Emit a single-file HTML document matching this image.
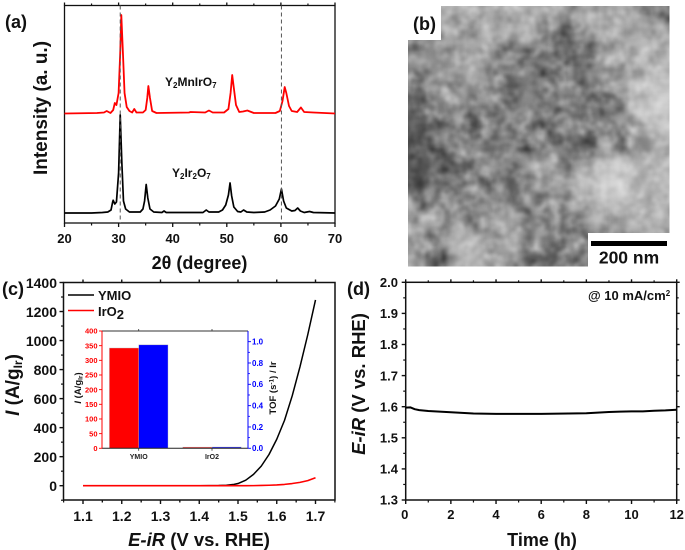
<!DOCTYPE html>
<html lang="en">
<head>
<meta charset="utf-8">
<title>Catalyst characterization figure</title>
<style>
html,body{margin:0;padding:0;background:#fff;width:685px;height:550px;overflow:hidden}
svg{display:block;filter:blur(0.35px)}
text{font-family:"Liberation Sans",sans-serif;font-weight:bold;fill:#111}
</style>
</head>
<body>
<svg id="fig" xmlns="http://www.w3.org/2000/svg" width="685" height="550" viewBox="0 0 685 550">
<defs>
<filter id="semBlur" x="-5%" y="-5%" width="110%" height="110%" color-interpolation-filters="sRGB"><feGaussianBlur stdDeviation="5"/></filter>
<filter id="semGrain" x="0" y="0" width="100%" height="100%" color-interpolation-filters="sRGB">
<feTurbulence type="fractalNoise" baseFrequency="0.075" numOctaves="2" seed="7"/>
<feColorMatrix type="matrix" values="0.4 0.4 0 0 0.1 0.4 0.4 0 0 0.1 0.4 0.4 0 0 0.1 0 0 0 0 1"/>
</filter>
<clipPath id="semClip"><rect x="408" y="6" width="261.5" height="260.5"/></clipPath>
</defs>
<rect width="685" height="550" fill="#fff"/>
<g id="panelA"></g>
<g id="panelB" clip-path="url(#semClip)"></g>
<g id="semOver">
<rect x="408" y="6" width="33" height="34" fill="#fff"/>
<rect x="588" y="233" width="82" height="34" fill="#fff"/>
<rect x="591" y="241" width="76" height="5" fill="#000"/>
<text x="629" y="263.500" font-size="17.500" text-anchor="middle">200 nm</text>
</g>
<g id="panelC"></g>
<g id="panelInset"></g>
<g id="panelD"></g>

<text x="5" y="28" font-size="18">(a)</text>
<text x="413" y="30" font-size="18">(b)</text>
<text x="2" y="295" font-size="18">(c)</text>
<text x="347" y="295" font-size="18">(d)</text>

<text x="199.500" y="269" font-size="18" text-anchor="middle">2θ (degree)</text>
<text transform="translate(47,108) rotate(-90)" font-size="19" text-anchor="middle">Intensity (a. u.)</text>
<text x="165" y="86" font-size="12">Y<tspan font-size="8" dy="2">2</tspan><tspan dy="-2">MnIrO</tspan><tspan font-size="8" dy="2">7</tspan></text>
<text x="172" y="177" font-size="12">Y<tspan font-size="8" dy="2">2</tspan><tspan dy="-2">Ir</tspan><tspan font-size="8" dy="2">2</tspan><tspan dy="-2">O</tspan><tspan font-size="8" dy="2">7</tspan></text>

<text x="199" y="546" font-size="18.500" text-anchor="middle"><tspan font-style="italic">E-iR</tspan> (V vs. RHE)</text>
<text transform="translate(19,385) rotate(-90)" font-size="19" text-anchor="middle"><tspan font-style="italic">I</tspan> (A/g<tspan font-size="12" dy="3">Ir</tspan><tspan dy="-3">)</tspan></text>
<g>
<line x1="68" y1="295" x2="94" y2="295" stroke="#000" stroke-width="1.500"/>
<text x="98" y="300" font-size="13">YMIO</text>
<line x1="68" y1="310.500" x2="94" y2="310.500" stroke="#f00" stroke-width="1.500"/>
<text x="98" y="316" font-size="13">IrO<tspan font-size="13" dy="3">2</tspan></text>
</g>
<text transform="translate(81,388) rotate(-90)" font-size="9.500" text-anchor="middle"><tspan font-style="italic">I</tspan> (A/g<tspan font-size="6.500" dy="1.500">Ir</tspan><tspan dy="-1.500">)</tspan></text>
<text transform="translate(276,388) rotate(-90)" font-size="9.500" text-anchor="middle">TOF (s<tspan font-size="6.500" dy="-2.500">-1</tspan><tspan dy="2.500">) / Ir</tspan></text>

<text x="542" y="546" font-size="18" text-anchor="middle">Time (h)</text>
<text transform="translate(365,384) rotate(-90)" font-size="18.500" text-anchor="middle"><tspan font-style="italic">E-iR</tspan> (V vs. RHE)</text>
<text x="588" y="300" font-size="13">@ 10 mA/cm<tspan font-size="8" dy="-4">2</tspan></text>
</svg>
<script>
// Panel (a) XRD data
var xrdTickLabels = [20, 30, 40, 50, 60, 70];
var xrdMinorTicks = [25, 35, 45, 55, 65];
var xrdReferenceAngles = [30.3, 60.1];
var yioAngles = [20,25,27,28,28.6,28.9,29.0,29.3,29.6,30,30.3,30.6,30.9,31.3,32,34,34.5,34.8,35.1,35.4,35.8,36.5,38,38.4,38.8,45.6,46.2,46.7,48.5,49.2,49.8,50.3,50.6,50.9,51.3,52,52.6,53.1,53.7,55,57,58,59,59.7,60.1,60.5,61,62,62.6,63.1,63.6,64.3,65.3,66,70];
var yioIntensity = [10,10,10.5,11,13,21,22.7,19,21,50,108,60,22,14,11,11,14,22,38.5,25,14,11,10.5,12,10.5,10.5,13,11,11,13,18,28,40,27,16,11.5,11,13,11,10.5,11,13,17,24,34,22,15,12,12.5,15,12,10.5,11.5,10.5,10];
var ymioAngles = [20,26,27.3,27.8,28.5,29,29.3,29.6,30,30.3,30.5,30.8,31.1,31.5,32,32.5,32.9,33.3,34.5,35,35.3,35.5,35.8,36.2,37,43,43.3,46,46.7,47.4,49.5,50.3,50.7,51,51.3,51.7,52.3,53,53.8,55,59,59.8,60.3,60.7,61,61.5,62,63,63.7,64.3,66,70];
var ymioIntensity = [109.5,110,110.5,112,110,113,120,118,130,170,208,170,130,116,112,110.5,114,110.5,110.5,113,125,137,125,112,110,110.5,111,110.5,112.5,110.5,110.5,114,130,148,135,118,111,111.5,112.5,110,110,112,122,136,130,117,112,111,115.5,111,110.5,109.5];

// Panel (b) coarse grey levels of the micrograph
var semRows = [
[178,178,172,176,168,172,176,170,150,168,176,172,150,122],
[150,150,165,160,172,178,180,120,110,150,172,165,178,176],
[135,145,150,170,140,130,125,118,105,110,165,170,185,170],
[140,150,155,170,150,120,120,125,130,108,150,165,175,190],
[120,150,150,150,140,110,120,130,135,120,130,160,190,200],
[110,120,140,125,130,120,130,120,125,115,120,150,200,205],
[90,120,135,120,125,150,130,125,140,130,130,140,170,195],
[90,105,130,140,110,120,125,135,110,90,165,130,140,170],
[85,95,95,140,150,135,150,160,130,160,190,200,175,190],
[85,105,120,140,125,110,150,150,170,190,210,210,170,185],
[140,140,140,130,140,125,130,140,155,175,195,190,180,180],
[165,160,155,130,165,170,135,125,130,140,170,165,190,170],
[155,135,175,180,160,180,130,120,140,125,150,150,150,150],
[160,100,170,190,150,150,125,110,135,130,150,150,150,150]
];

// Panel (c) polarization data
var activityTickLabels = [1.1, 1.2, 1.3, 1.4, 1.5, 1.6, 1.7];
var activityYTicks = [0, 200, 400, 600, 800, 1000, 1200, 1400];
var potential = [1.1,1.2,1.3,1.4,1.45,1.47,1.49,1.5,1.52,1.54,1.56,1.58,1.6,1.62,1.64,1.66,1.68,1.7];
var ymioCurrent = [0,0,0,0,1,3,9,15,38,78,135,215,320,450,620,820,1040,1280];
var iro2Current = [0,0,0,0,0,0,0,0,0,0.5,1.5,3,5,9,15,23,35,55];

// Panel (c) inset bars
var insetCategories = ['YMIO', 'IrO2'];
var insetMassActivity = [342, 4];
var insetTof = [0.97, 0.012];
var insetLeftTicks = [0, 50, 100, 150, 200, 250, 300, 350, 400];
var insetRightTicks = ['0.0', '0.2', '0.4', '0.6', '0.8', '1.0'];

// Panel (d) stability data
var stabilityTimeTicks = [0, 2, 4, 6, 8, 10, 12];
var stabilityYTicks = ['1.3', '1.4', '1.5', '1.6', '1.7', '1.8', '1.9', '2.0'];
var stabilityTime = [0,0.2,0.4,0.6,1,2,3,4,6,8,8.5,9,9.5,10,10.5,11,11.5,12];
var stabilityPotential = [1.597,1.598,1.592,1.589,1.586,1.582,1.578,1.577,1.577,1.579,1.581,1.583,1.584,1.585,1.585,1.587,1.588,1.590];

var SVGNS = 'http://www.w3.org/2000/svg';
function el(parent, tag, attrs, name, text) {
  var node = document.createElementNS(SVGNS, tag);
  for (var k in attrs) node.setAttribute(k, attrs[k]);
  
  
  if (text !== undefined) node.textContent = text;
  parent.appendChild(node);
  return node;
}
function line(parent, x1, y1, x2, y2, color, width, name) {
  return el(parent, 'line', {x1: x1, y1: y1, x2: x2, y2: y2, stroke: color, 'stroke-width': width}, name);
}
function poly(parent, xs, ys, fx, fy, color, width, name) {
  var pts = xs.map(function (v, i) { return fx(v).toFixed(2) + ',' + fy(ys[i]).toFixed(2); }).join(' ');
  return el(parent, 'polyline', {points: pts, fill: 'none', stroke: color, 'stroke-width': width, 'stroke-linejoin': 'round'}, name);
}
function linear(d0, d1, r0, r1) {
  return function (v) { return r0 + (v - d0) * (r1 - r0) / (d1 - d0); };
}
function frame(parent, l, t, r, b, w) {
  el(parent, 'rect', {x: l, y: t, width: r - l, height: b - t, fill: 'none', stroke: '#111', 'stroke-width': w}, 'plot-frame');
}

// ---------- Panel a ----------
(function () {
  var g = document.getElementById('panelA');
  var L = 64.5, R = 335, T = 5.5, B = 223;
  var x = linear(20, 70, L, R);
  var y = linear(0, 217.5, B, T);
  frame(g, L, T, R, B, 1.3);
  xrdTickLabels.forEach(function (v) {
    line(g, x(v), B, x(v), B + 4, '#111', 1.3, 'x-major-tick');
    line(g, x(v), T, x(v), T - 3, '#111', 1.3, 'top-major-tick');
    el(g, 'text', {x: x(v), y: 243, 'font-size': 13, 'text-anchor': 'middle'}, 'x-tick-label', v);
  });
  xrdMinorTicks.forEach(function (v) {
    line(g, x(v), B, x(v), B + 2.5, '#111', 1.2, 'x-minor-tick');
    line(g, x(v), T, x(v), T - 2, '#111', 1.2, 'top-minor-tick');
  });
  poly(g, ymioAngles, ymioIntensity, x, y, '#f00', 1.8, 'ymio-xrd-trace');
  poly(g, yioAngles, yioIntensity, x, y, '#000', 1.7, 'yio-xrd-trace');
  xrdReferenceAngles.forEach(function (v) {
    var d = line(g, x(v), T, x(v), B, '#555', 1, 'reference-dashed-line');
    d.setAttribute('stroke-dasharray', '4 3');
  });
})();

// ---------- Panel b ----------
(function () {
  var g = document.getElementById('panelB');
  var inner = el(g, 'g', {filter: 'url(#semBlur)'}, 'sem-tone-map');
  var cell = 261.5 / 14, pad = 12;
  semRows.forEach(function (row, r) {
    row.forEach(function (v, c) {
      var extraL = c === 0 ? pad : 0, extraR = c === 13 ? pad : 0;
      var extraT = r === 0 ? pad : 0, extraB = r === 13 ? pad : 0;
      el(inner, 'rect', {
        x: 408 + c * cell - extraL, y: 6 + r * cell - extraT,
        width: cell + 0.5 + extraL + extraR, height: cell + 0.5 + extraT + extraB,
        fill: 'rgb(' + v + ',' + v + ',' + v + ')'
      }, 'sem-tone-cell');
    });
  });
  var grain = el(g, 'rect', {x: 408, y: 6, width: 262, height: 261, filter: 'url(#semGrain)'}, 'sem-particle-texture');
  grain.setAttribute('style', 'mix-blend-mode:overlay');
})();

// ---------- Panel c ----------
(function () {
  var g = document.getElementById('panelC');
  var L = 63.5, R = 335, T = 282.5, B = 500;
  var x = linear(1.1, 1.7, 83, 315.5);
  var y = linear(0, 1400, 485.7, 282.5);
  frame(g, L, T, R, B, 1.5);
  activityTickLabels.forEach(function (v) {
    line(g, x(v), B, x(v), B + 4, '#111', 1.4, 'x-major-tick');
    line(g, x(v), T, x(v), T - 3, '#111', 1.4, 'top-major-tick');
    line(g, x(v + 0.05), B, x(v + 0.05), B + 2.5, '#111', 1.2, 'x-minor-tick');
    line(g, x(v - 0.05), B, x(v - 0.05), B + 2.5, '#111', 1.2, 'x-minor-tick');
    el(g, 'text', {x: x(v), y: 521, 'font-size': 14, 'text-anchor': 'middle'}, 'x-tick-label', v.toFixed(1));
  });
  activityYTicks.forEach(function (v) {
    line(g, L, y(v), L - 4, y(v), '#111', 1.4, 'y-major-tick');
    line(g, L, y(v - 100), L - 2.5, y(v - 100), '#111', 1.2, 'y-minor-tick');
    el(g, 'text', {x: 57, y: y(v) + 5.5, 'font-size': 14, 'text-anchor': 'end'}, 'y-tick-label', v);
  });
  poly(g, potential, ymioCurrent, x, y, '#000', 1.5, 'ymio-curve');
  poly(g, potential, iro2Current, x, y, '#f00', 1.6, 'iro2-curve');
})();

// ---------- Inset ----------
(function () {
  var g = document.getElementById('panelInset');
  var L = 102, R = 248, T = 331, B = 448.3;
  var yL = linear(0, 400, B, T);
  var yR = linear(0, 1.1, B, T);
  var bandCenters = [138.7, 212];
  var barW = 29.3;
  el(g, 'rect', {x: L, y: T, width: R - L, height: B - T, fill: '#fff'}, 'inset-background');
  insetCategories.forEach(function (name, i) {
    var cx = bandCenters[i];
    el(g, 'rect', {x: cx - barW, y: yL(insetMassActivity[i]), width: barW, height: B - yL(insetMassActivity[i]), fill: '#f00', stroke: '#bbb', 'stroke-width': 0.4}, 'inset-bar-mass-activity-' + i);
    el(g, 'rect', {x: cx, y: yR(insetTof[i]), width: barW, height: B - yR(insetTof[i]), fill: '#00f', stroke: '#bbb', 'stroke-width': 0.4}, 'inset-bar-tof-' + i);
    line(g, cx, B, cx, B + 2.5, '#333', 0.8, 'inset-x-tick');
    line(g, cx, T, cx, T - 2, '#333', 0.8, 'inset-top-tick');
    el(g, 'text', {x: cx, y: 459, 'font-size': 7, 'text-anchor': 'middle', style: 'fill:#222'}, 'inset-category-label', name);
  });
  line(g, L, T, R, T, '#333', 0.9, 'inset-top-axis');
  line(g, L, B, R, B, '#222', 1, 'inset-bottom-axis');
  line(g, L, T, L, B, '#f00', 1, 'inset-left-axis');
  line(g, R, T, R, B, '#00f', 1, 'inset-right-axis');
  insetLeftTicks.forEach(function (v) {
    line(g, L, yL(v), L - 3, yL(v), '#f00', 0.9, 'inset-left-tick');
    el(g, 'text', {x: 97.5, y: yL(v) + 2.7, 'font-size': 7.5, 'text-anchor': 'end', style: 'fill:#f00'}, 'inset-left-tick-label', v);
  });
  insetRightTicks.forEach(function (v) {
    var n = parseFloat(v);
    line(g, R, yR(n), R + 3, yR(n), '#00f', 0.9, 'inset-right-tick');
    if (n < 1) line(g, R, yR(n + 0.1), R + 2, yR(n + 0.1), '#00f', 0.8, 'inset-right-minor-tick');
    el(g, 'text', {x: 252, y: yR(n) + 2.9, 'font-size': 8, style: 'fill:#00f'}, 'inset-right-tick-label', v);
  });
})();

// ---------- Panel d ----------
(function () {
  var g = document.getElementById('panelD');
  var L = 405.7, R = 676.7, T = 282.3, B = 500;
  var x = linear(0, 12, L, R);
  var y = linear(1.3, 2.0, B, T);
  frame(g, L, T, R, B, 1.5);
  stabilityTimeTicks.forEach(function (v) {
    line(g, x(v), B, x(v), B + 4, '#111', 1.4, 'x-major-tick');
    line(g, x(v), T, x(v), T - 3, '#111', 1.4, 'top-major-tick');
    if (v < 12) {
      line(g, x(v + 1), B, x(v + 1), B + 2.5, '#111', 1.2, 'x-minor-tick');
      line(g, x(v + 1), T, x(v + 1), T - 2, '#111', 1.2, 'top-minor-tick');
    }
    el(g, 'text', {x: x(v) - (v === 0 ? 1 : 0), y: 519, 'font-size': 13, 'text-anchor': 'middle'}, 'x-tick-label', v);
  });
  stabilityYTicks.forEach(function (v) {
    var n = parseFloat(v);
    line(g, L, y(n), L - 4, y(n), '#111', 1.4, 'y-major-tick');
    line(g, R, y(n), R + 3, y(n), '#111', 1.4, 'right-major-tick');
    if (n < 2) {
      line(g, L, y(n + 0.05), L - 2.5, y(n + 0.05), '#111', 1.2, 'y-minor-tick');
      line(g, R, y(n + 0.05), R + 2, y(n + 0.05), '#111', 1.2, 'right-minor-tick');
    }
    el(g, 'text', {x: 398, y: y(n) + 4.7, 'font-size': 13, 'text-anchor': 'end'}, 'y-tick-label', v);
  });
  poly(g, stabilityTime, stabilityPotential, x, y, '#000', 2, 'stability-curve');
})();
</script>
</body>
</html>
